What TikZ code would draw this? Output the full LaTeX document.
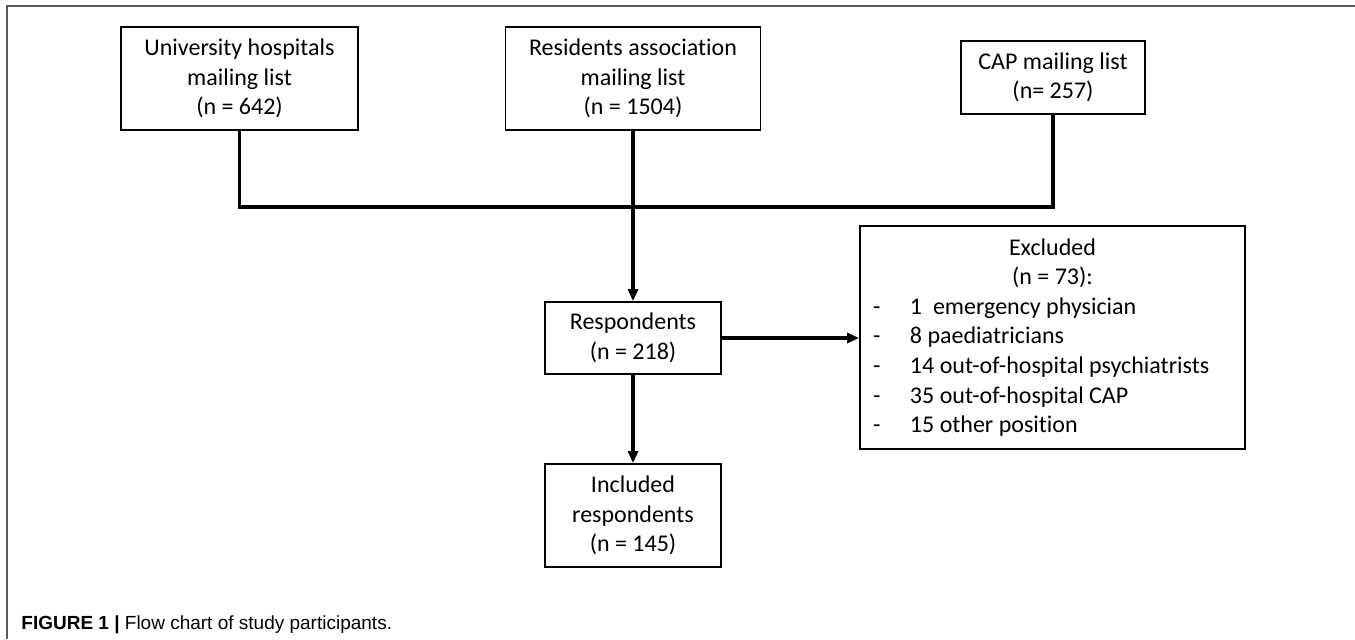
\documentclass[tikz,border=0pt]{standalone}
\usepackage{fontspec}
\setmainfont{Carlito}[Ligatures=NoCommon]
\newfontfamily\captionfont{Liberation Sans}
\usetikzlibrary{positioning,arrows.meta}

\newcommand{\exline}[1]{\makebox[179.5pt][l]{\makebox[18.5pt][l]{-}#1}}

\begin{document}
\begin{tikzpicture}[x=0.5pt, y=-0.5pt,
    box/.style={draw, line width=0.9pt, align=center, inner sep=0pt,
        font=\fontsize{12}{14.8}\selectfont},
    link/.style={line width=1.6pt},
    arr/.style={line width=1.6pt, -{Triangle[length=6pt, width=5pt]}}]
    \useasboundingbox (0,0) rectangle (1355,639);

    % Frame
    \draw[black!65, line width=0.75pt] (7,639) -- (7,6) -- (1355,6);

    % Mailing lists
    \node[box, minimum width=118.5pt, minimum height=51.5pt] (uni) at (239.5,78.5)
        {University hospitals\\mailing list\\(n = 642)};
    \node[box, minimum width=127.5pt, minimum height=51.5pt] (res) at (633,78.5)
        {Residents association\\mailing list\\(n = 1504)};
    \node[box, minimum width=92pt, minimum height=36.5pt] (cap) at (1053,77.5)
        {CAP mailing list\\(n= 257)};

    % Respondents
    \node[box, minimum width=88pt, minimum height=36pt] (resp) at (633,338)
        {Respondents\\(n = 218)};
    \node[box, minimum width=88pt, minimum height=51.5pt] (incl) at (633,515.5)
        {Included\\respondents\\(n = 145)};

    % Excluded
    \node[box, inner xsep=6.5pt, minimum height=111.5pt] (excl) at (1052.5,337.5)
        {Excluded\\(n = 73):\\
         \exline{1\ \ emergency physician}\\
         \exline{8 paediatricians}\\
         \exline{14 out-of-hospital psychiatrists}\\
         \exline{35 out-of-hospital CAP}\\
         \exline{15 other position}};

    % Connectors
    \coordinate (bus) at (633,207);
    \draw[link] (uni.south) |- (bus) -| (cap.south);
    \draw[arr] (res.south) -- (resp.north);
    \draw[arr] (resp.east) -- (excl.west |- resp.east);
    \draw[arr] (resp.south) -- (incl.north);

    % Caption
    \node[anchor=base west, inner sep=0pt, font=\captionfont\fontsize{9.5}{11}\selectfont]
        (caption) at (21,629) {\textbf{FIGURE 1 |} Flow chart of study participants.};
\end{tikzpicture}
\end{document}
